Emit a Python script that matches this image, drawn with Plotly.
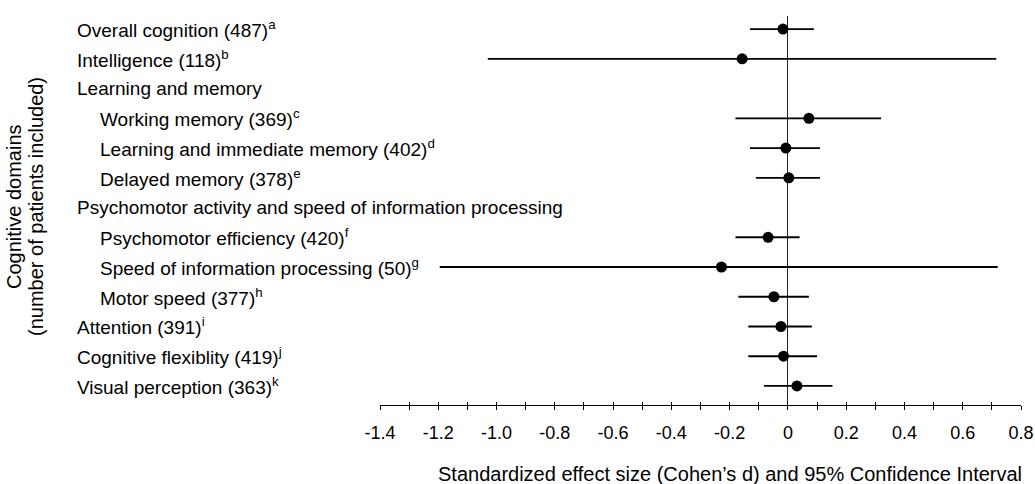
import plotly.graph_objects as go

# ---- data ----
labels = [
    "Overall cognition (487)<sup>a</sup>",
    "Intelligence (118)<sup>b</sup>",
    "Learning and memory",
    "Working memory (369)<sup>c</sup>",
    "Learning and immediate memory (402)<sup>d</sup>",
    "Delayed memory (378)<sup>e</sup>",
    "Psychomotor activity and speed of information processing",
    "Psychomotor efficiency (420)<sup>f</sup>",
    "Speed of information processing (50)<sup>g</sup>",
    "Motor speed (377)<sup>h</sup>",
    "Attention (391)<sup>i</sup>",
    "Cognitive flexiblity (419)<sup>j</sup>",
    "Visual perception (363)<sup>k</sup>",
]
indent = [0, 0, 0, 1, 1, 1, 0, 1, 1, 1, 0, 0, 0]
effect = [-0.017, -0.157, None, 0.072, -0.007, 0.003, None, -0.068, -0.228, -0.048, -0.024, -0.015, 0.031]
ci_low = [-0.13, -1.03, None, -0.18, -0.13, -0.11, None, -0.18, -1.195, -0.17, -0.136, -0.136, -0.082]
ci_high = [0.089, 0.715, None, 0.32, 0.11, 0.11, None, 0.04, 0.72, 0.072, 0.082, 0.10, 0.153]
tick_vals = [-1.4, -1.2, -1.0, -0.8, -0.6, -0.4, -0.2, 0, 0.2, 0.4, 0.6, 0.8]
tick_text = ["-1.4", "-1.2", "-1.0", "-0.8", "-0.6", "-0.4", "-0.2", "0", "0.2", "0.4", "0.6", "0.8"]
x_title = "Standardized effect size (Cohen\u2019s d) and 95% Confidence Interval"
y_title_lines = ["Cognitive domains", "(number of patients included)"]

FONT = "Liberation Sans, Arial, Helvetica, sans-serif"
W, H = 1035, 484
L, R, T, B = 380, 14, 16, 79
PW = W - L - R
PH = H - T - B

rows = [i for i, v in enumerate(effect) if v is not None]
xs = [effect[i] for i in rows]
err_plus = [ci_high[i] - effect[i] for i in rows]
err_minus = [effect[i] - ci_low[i] for i in rows]

fig = go.Figure()
fig.add_trace(go.Scatter(
    x=xs, y=rows, mode="markers",
    marker=dict(color="black", size=11),
    error_x=dict(type="data", symmetric=False, array=err_plus, arrayminus=err_minus,
                 color="black", thickness=1.8, width=0),
    showlegend=False, hoverinfo="skip",
))
# invisible trace for the overlaid tick axis
fig.add_trace(go.Scatter(x=[0], y=[0], xaxis="x2", mode="markers",
                         marker=dict(opacity=0), showlegend=False, hoverinfo="skip"))

def px_x(px):
    return (px - L) / PW

def px_y(py):
    return (H - B - py) / PH

for i, lab in enumerate(labels):
    fig.add_annotation(
        x=px_x(75 if indent[i] == 0 else 98), xref="paper",
        y=i, yref="y", text=lab, showarrow=False, xanchor="left", yanchor="middle",
        font=dict(family=FONT, size=19, color="black"),
    )

for j, (line, cx) in enumerate(zip(y_title_lines, [14, 36])):
    fig.add_annotation(
        x=px_x(cx), xref="paper", y=px_y(207), yref="paper",
        text=line, textangle=-90, showarrow=False,
        xanchor="center", yanchor="middle",
        font=dict(family=FONT, size=20, color="black"),
    )
fig.add_annotation(
    x=px_x(730), xref="paper", y=px_y(461), yref="paper",
    text=x_title, showarrow=False, xanchor="center", yanchor="top",
    font=dict(family=FONT, size=20, color="black"),
)

fig.update_layout(
    width=W, height=H,
    margin=dict(l=L, r=R, t=T, b=B, pad=0, autoexpand=False),
    plot_bgcolor="white", paper_bgcolor="white",
    xaxis=dict(
        range=[-1.4, 0.8], tickvals=tick_vals, ticktext=tick_text,
        showline=True, linecolor="black", linewidth=1,
        ticks="outside", ticklen=4, tickcolor="black", tickwidth=1,
        minor=dict(dtick=0.1, tick0=0, ticks="outside", ticklen=4, tickcolor="black", tickwidth=1, showgrid=False),
        showgrid=False, zeroline=True, zerolinecolor="#222", zerolinewidth=1,
        tickfont=dict(family=FONT, size=18, color="black"),
        ticklabelstandoff=7, ticklabeloverflow="allow", automargin=False,
    ),
    xaxis2=dict(
        overlaying="x", matches="x", anchor="y", side="bottom",
        range=[-1.4, 0.8], tickvals=tick_vals, showticklabels=False,
        ticks="inside", ticklen=3, tickcolor="black", tickwidth=1,
        minor=dict(dtick=0.1, tick0=0, ticks="inside", ticklen=3, tickcolor="black", tickwidth=1, showgrid=False),
        showgrid=False, zeroline=False, showline=False, automargin=False,
    ),
    yaxis=dict(range=[12.64, -0.44], visible=False, automargin=False),
)

fig.write_html("out.html", config={"displayModeBar": False},
               post_script="document.body.style.margin='0px';")
